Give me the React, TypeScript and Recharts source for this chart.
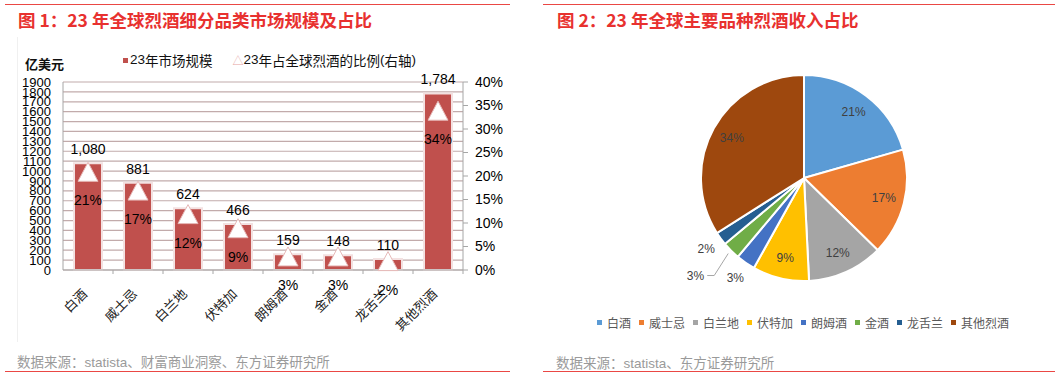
import React from "react";
import {
  ComposedChart,
  Bar,
  Line,
  XAxis,
  YAxis,
  CartesianGrid,
  LabelList,
  PieChart,
  Pie,
  Cell,
} from "recharts";

const categories = ["白酒", "威士忌", "白兰地", "伏特加", "朗姆酒", "金酒", "龙舌兰", "其他烈酒"];
// 23年市场规模（亿美元）
const marketSize = [1080, 881, 624, 466, 159, 148, 110, 1784];
// 23年占全球烈酒的比例
const shareOfTotal = [0.21, 0.17, 0.12, 0.09, 0.03, 0.03, 0.02, 0.34];
const leftTicks = [0, 100, 200, 300, 400, 500, 600, 700, 800, 900, 1000, 1100, 1200, 1300, 1400, 1500, 1600, 1700, 1800, 1900];
const rightTicks = [0, 0.05, 0.1, 0.15, 0.2, 0.25, 0.3, 0.35, 0.4];
const pieColors = ["#5B9BD5", "#ED7D31", "#A5A5A5", "#FFC000", "#4472C4", "#70AD47", "#255E91", "#9E480E"];

const barData = categories.map((name, i) => ({ name, size: marketSize[i], share: shareOfTotal[i] }));
const pieData = categories.map((name, i) => ({ name, value: marketSize[i] }));

const SANS = '"Liberation Sans", Arial, sans-serif';
const CJK = '"Noto Sans CJK SC", sans-serif';
const RAD = Math.PI / 180;

const CategoryTick = (props: any) => {
  const { x, y, payload } = props;
  const ax = x - 4;
  const ay = y + 21;
  return (
    <g>
      <line x1={x + 25} y1={y} x2={x + 25} y2={y + 4} stroke="#A6A6A6" />
      <text
        x={ax}
        y={ay}
        transform={`rotate(-45, ${ax}, ${ay})`}
        textAnchor="end"
        dominantBaseline="central"
        fontSize={13}
        fontFamily={CJK}
        fill="#222"
      >
        {payload.value}
      </text>
    </g>
  );
};

const TriangleDot = (props: any) => {
  const { cx, cy, payload, index } = props;
  if (cx == null || cy == null) return <g key={`t-${index}`} />;
  return (
    <g key={`t-${index}`}>
      <polygon
        points={`${cx},${cy - 9} ${cx - 10},${cy + 10} ${cx + 10},${cy + 10}`}
        fill="#fff"
        stroke="#E6B9B8"
        strokeWidth={1}
      />
      <text
        x={cx}
        y={cy + 29}
        textAnchor="middle"
        dominantBaseline="central"
        fontSize={14}
        fontFamily={SANS}
        fill="#000"
      >
        {Math.round(payload.share * 100)}%
      </text>
    </g>
  );
};

const PieLabel = (props: any) => {
  const { cx, cy, midAngle, outerRadius, percent, name } = props;
  const pct = `${Math.round(percent * 100)}%`;
  const at = (r: number) => ({
    x: cx + r * Math.cos(-midAngle * RAD),
    y: cy + r * Math.sin(-midAngle * RAD),
  });
  const textProps = { fill: "#404040", fontSize: 12, fontFamily: SANS, dominantBaseline: "central" as const };
  if (percent >= 0.05) {
    const p = at(outerRadius * 0.8);
    return (
      <text x={p.x} y={p.y} textAnchor="middle" {...textProps}>
        {pct}
      </text>
    );
  }
  if (name === "金酒") {
    const p0 = at(outerRadius + 4);
    const p1 = { x: p0.x - 14, y: p0.y + 22 };
    const p2 = { x: p1.x - 7, y: p1.y };
    return (
      <g>
        <polyline points={`${p0.x},${p0.y} ${p1.x},${p1.y} ${p2.x},${p2.y}`} fill="none" stroke="#A6A6A6" strokeWidth={1} />
        <text x={p2.x - 3} y={p2.y} textAnchor="end" {...textProps}>
          {pct}
        </text>
      </g>
    );
  }
  const p = at(outerRadius + 18);
  return (
    <text x={p.x} y={p.y} textAnchor="middle" {...textProps}>
      {pct}
    </text>
  );
};

const redLine = (left: number, top: number, width: number) => (
  <div style={{ position: "absolute", left, top, width, height: 0, borderTop: "1.5px solid #EA4744" }} />
);

export default function App() {
  return (
    <div
      style={{
        position: "absolute",
        left: 0,
        top: 0,
        width: 1061,
        height: 385,
        background: "#fff",
        overflow: "hidden",
        fontFamily: CJK,
      }}
    >
      {/* 左图 */}
      {redLine(5, 4, 505)}
      <div style={{ position: "absolute", left: 18, top: 9, fontSize: 17.5, lineHeight: "22px", fontWeight: 700, color: "#E8312F", whiteSpace: "nowrap" }}>
        图 1：23 年全球烈酒细分品类市场规模及占比
      </div>
      <div style={{ position: "absolute", left: 17, top: 37, width: 0, height: 305, borderLeft: "1px solid #F0F0F0" }} />
      <div style={{ position: "absolute", left: 25, top: 55, fontSize: 13, lineHeight: "17px", fontWeight: 700, color: "#111" }}>亿美元</div>
      <div style={{ position: "absolute", left: 123, top: 51, fontSize: 13.5, lineHeight: "18px", color: "#111", whiteSpace: "nowrap", display: "flex", alignItems: "center" }}>
        <span style={{ display: "inline-block", width: 5, height: 5, background: "#C0504D", marginRight: 2 }} />
        <span style={{ fontFamily: SANS }}>23</span>年市场规模
        <span style={{ color: "#E6A5A4", marginLeft: 20, fontSize: 11 }}>△</span>
        <span style={{ fontFamily: SANS }}>23</span>年占全球烈酒的比例<span style={{ fontFamily: SANS }}>(</span>右轴<span style={{ fontFamily: SANS }}>)</span>
      </div>
      <div style={{ position: "absolute", left: 0, top: 0 }}>
        <ComposedChart width={530} height={385} data={barData} margin={{ top: 82, right: 22, bottom: 55, left: 18 }}>
          <CartesianGrid vertical={false} stroke="#C2ABAB" strokeWidth={1.2} />
          <XAxis
            dataKey="name"
            height={60}
            interval={0}
            tickLine={false}
            tickSize={0}
            tickMargin={0}
            axisLine={{ stroke: "#A6A6A6" }}
            tick={<CategoryTick />}
          />
          <YAxis
            width={45}
            domain={[0, 1900]}
            ticks={leftTicks}
            interval={0}
            tickLine={false}
            tickSize={0}
            tickMargin={12}
            axisLine={{ stroke: "#A6A6A6" }}
            tick={{ fill: "#000", fontSize: 13, fontFamily: SANS }}
          />
          <YAxis
            yAxisId="right"
            orientation="right"
            width={45}
            domain={[0, 0.4]}
            ticks={rightTicks}
            interval={0}
            tickSize={5}
            tickMargin={7}
            tickLine={{ stroke: "#A6A6A6" }}
            axisLine={{ stroke: "#A6A6A6" }}
            tickFormatter={(v: number) => `${Math.round(v * 100)}%`}
            tick={{ fill: "#000", fontSize: 14, fontFamily: SANS }}
          />
          <Bar dataKey="size" fill="#C0504D" barSize={28} stroke="#F3E1E1" strokeWidth={2} isAnimationActive={false}>
            <LabelList
              dataKey="size"
              position="top"
              offset={9}
              formatter={(v: any) => Number(v).toLocaleString("en-US")}
              style={{ fill: "#000", fontSize: 14, fontFamily: SANS }}
            />
          </Bar>
          <Line
            yAxisId="right"
            dataKey="share"
            stroke="none"
            strokeWidth={0}
            dot={TriangleDot}
            activeDot={false}
            legendType="none"
            isAnimationActive={false}
          />
        </ComposedChart>
      </div>
      <div style={{ position: "absolute", left: 17, top: 352, fontSize: 13.5, lineHeight: "18px", color: "#9A9A9A", whiteSpace: "nowrap" }}>
        数据来源：<span style={{ fontFamily: SANS }}>statista</span>、财富商业洞察、东方证券研究所
      </div>
      {redLine(5, 371, 505)}

      {/* 右图 */}
      {redLine(543, 4, 512)}
      <div style={{ position: "absolute", left: 557, top: 9, fontSize: 17.5, lineHeight: "22px", fontWeight: 700, color: "#E8312F", whiteSpace: "nowrap" }}>
        图 2：23 年全球主要品种烈酒收入占比
      </div>
      <div style={{ position: "absolute", left: 540, top: 0 }}>
        <PieChart width={521} height={300}>
          <Pie
            data={pieData}
            dataKey="value"
            nameKey="name"
            cx={259}
            cy={173}
            outerRadius={103}
            startAngle={90}
            endAngle={-270}
            stroke="#fff"
            strokeWidth={2}
            label={PieLabel}
            labelLine={false}
            isAnimationActive={false}
          >
            {pieData.map((d, i) => (
              <Cell key={d.name} fill={pieColors[i]} />
            ))}
          </Pie>
        </PieChart>
      </div>
      <div style={{ position: "absolute", left: 597, top: 313, height: 18, display: "flex", alignItems: "center", whiteSpace: "nowrap", fontSize: 12, color: "#595959" }}>
        {categories.map((c, i) => (
          <span key={c} style={{ display: "inline-flex", alignItems: "center", marginRight: i < categories.length - 1 ? 8 : 0 }}>
            <span style={{ display: "inline-block", width: 5, height: 5, background: pieColors[i], marginRight: 5 }} />
            {c}
          </span>
        ))}
      </div>
      <div style={{ position: "absolute", left: 556, top: 353, fontSize: 13.5, lineHeight: "18px", color: "#9A9A9A", whiteSpace: "nowrap" }}>
        数据来源：<span style={{ fontFamily: SANS }}>statista</span>、东方证券研究所
      </div>
      {redLine(543, 371, 512)}
    </div>
  );
}
